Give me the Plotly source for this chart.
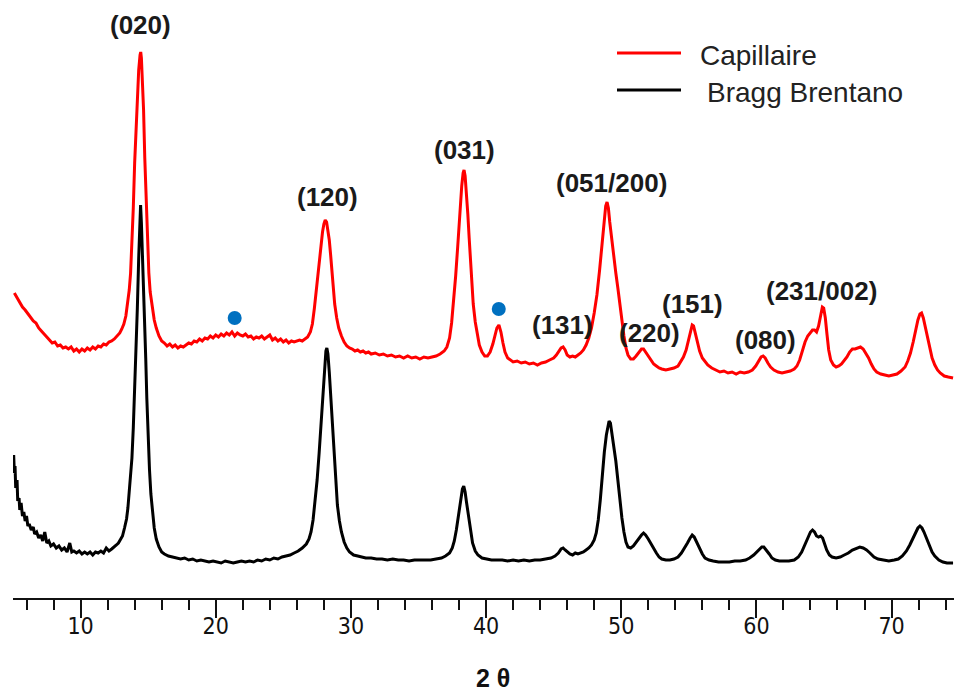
import plotly.graph_objects as go

# ---- data (2theta in degrees, intensity in arbitrary units, offset as displayed)
cap_x = [5.1, 5.3, 5.5, 5.7, 5.9, 6.1, 6.3, 6.5, 6.7, 6.9, 7.1, 7.3, 7.5, 7.7, 7.9, 8.1, 8.3, 8.5, 8.7, 8.9,
         9.1, 9.3, 9.5, 9.7, 9.9, 10.1, 10.3, 10.5, 10.7, 10.9, 11.1, 11.3, 11.5, 11.7, 11.9, 12.1, 12.3,
         12.5, 12.7, 12.9, 13.05, 13.2, 13.35, 13.5, 13.6, 13.7, 13.8, 13.9, 14.0, 14.1, 14.2, 14.3, 14.4,
         14.45, 14.5, 14.58, 14.66, 14.75, 14.85, 14.95, 15.05, 15.15, 15.3, 15.45, 15.6, 15.8, 16.0, 16.2,
         16.4, 16.6, 16.8, 17.0, 17.2, 17.4, 17.6, 17.8, 18.0, 18.2, 18.4, 18.6, 18.8, 19.0, 19.2, 19.4,
         19.6, 19.8, 20.0, 20.2, 20.4, 20.6, 20.8, 21.0, 21.2, 21.4, 21.6, 21.8, 22.0, 22.2, 22.4, 22.6,
         22.8, 23.0, 23.2, 23.4, 23.6, 23.8, 24.0, 24.2, 24.4, 24.6, 24.8, 25.0, 25.2, 25.4, 25.6, 25.8,
         26.0, 26.2, 26.4, 26.6, 26.8, 27.0, 27.15, 27.3, 27.45, 27.6, 27.75, 27.9, 28.0, 28.1, 28.2, 28.3,
         28.4, 28.5, 28.6, 28.7, 28.8, 28.95, 29.1, 29.3, 29.5, 29.7, 29.9, 30.1, 30.3, 30.5, 30.7, 30.9,
         31.1, 31.3, 31.5, 31.8, 32.1, 32.4, 32.7, 33.0, 33.3, 33.6, 33.9, 34.2, 34.5, 34.8, 35.1, 35.4,
         35.7, 36.0, 36.3, 36.6, 36.9, 37.1, 37.3, 37.45, 37.6, 37.75, 37.9, 38.05, 38.2, 38.3, 38.37,
         38.45, 38.55, 38.65, 38.75, 38.85, 38.95, 39.05, 39.2, 39.35, 39.5, 39.7, 39.9, 40.1, 40.3, 40.5,
         40.65, 40.8, 40.95, 41.1, 41.25, 41.4, 41.6, 41.8, 42.0, 42.3, 42.6, 42.9, 43.2, 43.5, 43.8, 44.1,
         44.4, 44.7, 45.0, 45.2, 45.4, 45.55, 45.7, 45.85, 46.0, 46.2, 46.4, 46.6, 46.8, 47.0, 47.2, 47.4,
         47.6, 47.8, 48.0, 48.2, 48.4, 48.55, 48.7, 48.85, 48.95, 49.05, 49.15, 49.3, 49.45, 49.6, 49.75,
         49.9, 50.05, 50.2, 50.35, 50.5, 50.7, 50.9, 51.1, 51.3, 51.5, 51.65, 51.8, 52.0, 52.2, 52.4, 52.6,
         52.8, 53.0, 53.3, 53.6, 53.9, 54.2, 54.4, 54.6, 54.8, 54.95, 55.1, 55.25, 55.35, 55.5, 55.65,
         55.8, 56.0, 56.2, 56.4, 56.7, 57.0, 57.3, 57.6, 57.9, 58.2, 58.5, 58.8, 59.1, 59.4, 59.7, 59.95,
         60.15, 60.35, 60.5, 60.65, 60.85, 61.05, 61.3, 61.6, 61.9, 62.2, 62.5, 62.8, 63.0, 63.2, 63.4,
         63.6, 63.8, 64.0, 64.15, 64.3, 64.45, 64.6, 64.75, 64.88, 64.98, 65.1, 65.22, 65.35, 65.5, 65.7,
         65.9, 66.1, 66.3, 66.5, 66.7, 66.9, 67.1, 67.3, 67.5, 67.7, 67.9, 68.1, 68.3, 68.5, 68.7, 68.9,
         69.2, 69.5, 69.8, 70.1, 70.4, 70.7, 71.0, 71.2, 71.4, 71.6, 71.8, 71.95, 72.1, 72.22, 72.35, 72.5,
         72.65, 72.8, 73.0, 73.2, 73.4, 73.6, 73.9, 74.2, 74.55]
cap_y = [305, 300, 296, 291, 288, 284, 281, 277, 275, 270, 267, 264, 261, 259, 255, 256, 252, 253, 250, 251,
         249, 251, 247, 249, 246, 249, 247, 250, 248, 251, 249, 252, 251, 254, 253, 256, 257,
         259, 262, 265, 269, 274, 282, 295, 308, 325, 352, 390, 435, 470, 500, 528, 543,
         546, 540, 520, 488, 440, 395, 355, 325, 306, 290, 278, 270, 262, 257, 255,
         252, 254, 251, 253, 250, 252, 251, 253, 255, 254, 257, 256, 259, 257, 260, 259,
         262, 260, 263, 261, 264, 262, 265, 263, 266, 262, 265, 263, 262, 264, 261, 262,
         259, 261, 260, 262, 259, 261, 263, 258, 260, 257, 259, 256, 258, 255, 257, 256,
         257, 258, 257, 259, 261, 266, 274, 290, 310, 333, 352, 366, 374, 378, 376, 368,
         358, 343, 326, 308, 294, 280, 270, 262, 256, 252, 250, 249, 247, 248, 246, 247,
         245, 246, 244, 245, 243, 244, 242, 243, 241, 242, 240, 242, 240, 241, 239, 241,
         240, 241, 242, 244, 247, 251, 260, 275, 295, 322, 351, 385, 412, 425, 428,
         422, 406, 384, 360, 335, 312, 294, 276, 262, 253, 246, 242, 242, 246, 254,
         262, 270, 273, 266, 255, 246, 240, 238, 236, 237, 235, 236, 234, 235, 233, 235,
         236, 238, 240, 243, 247, 250, 251, 248, 243, 241, 242, 241, 243, 245, 248, 253,
         260, 270, 285, 303, 328, 351, 375, 392, 396, 390, 376, 357, 340, 325, 310,
         292, 276, 262, 250, 243, 239, 239, 242, 246, 249, 249, 246, 241, 237, 234, 232,
         230, 229, 228, 229, 230, 232, 236, 241, 248, 257, 266, 273, 272, 264, 255,
         247, 240, 236, 233, 230, 228, 226, 227, 225, 226, 224, 226, 225, 226, 228, 232,
         237, 241, 242, 240, 235, 231, 228, 226, 225, 226, 227, 229, 232, 238, 247,
         256, 262, 266, 268, 268, 266, 272, 283, 291, 290, 280, 264, 248, 238, 233,
         231, 232, 234, 237, 241, 246, 249, 249, 250, 251, 249, 245, 240, 234, 229, 226,
         224, 223, 222, 223, 224, 227, 231, 237, 245, 256, 269, 278, 284, 285, 280, 271,
         260, 250, 240, 233, 228, 225, 222, 221, 220]

bb_x = [5.05, 5.1, 5.15, 5.2, 5.3, 5.35, 5.45, 5.5, 5.6, 5.7, 5.8, 5.9, 6.0, 6.1, 6.2, 6.35, 6.5, 6.6,
        6.75, 6.9, 7.05, 7.2, 7.35, 7.5, 7.65, 7.8, 8.0, 8.2, 8.4, 8.6, 8.8, 9.0, 9.2, 9.35, 9.5, 9.7,
        9.9, 10.1, 10.3, 10.5, 10.7, 10.9, 11.1, 11.3, 11.5, 11.7, 11.9, 12.1, 12.3, 12.5, 12.65, 12.8,
        12.95, 13.1, 13.25, 13.4, 13.5, 13.6, 13.7, 13.8, 13.9, 14.0, 14.1, 14.2, 14.3, 14.38, 14.44,
        14.5, 14.58, 14.66, 14.74, 14.82, 14.9, 15.0, 15.1, 15.2, 15.3, 15.45, 15.6, 15.8, 16.0, 16.2,
        16.5, 16.8, 17.1, 17.4, 17.7, 18.0, 18.3, 18.6, 18.9, 19.2, 19.5, 19.8, 20.1, 20.4, 20.7, 21.0,
        21.3, 21.6, 21.9, 22.2, 22.5, 22.8, 23.1, 23.4, 23.7, 24.0, 24.3, 24.6, 24.9, 25.2, 25.5, 25.8,
        26.1, 26.4, 26.7, 26.9, 27.05, 27.2, 27.35, 27.5, 27.65, 27.8, 27.95, 28.05, 28.15, 28.22, 28.3,
        28.4, 28.5, 28.6, 28.7, 28.8, 28.9, 29.0, 29.15, 29.3, 29.5, 29.7, 29.9, 30.2, 30.5, 30.8, 31.1,
        31.5, 31.9, 32.3, 32.7, 33.1, 33.5, 33.9, 34.3, 34.7, 35.1, 35.5, 35.9, 36.3, 36.7, 37.0, 37.3,
        37.5, 37.65, 37.8, 37.95, 38.1, 38.25, 38.35, 38.45, 38.55, 38.7, 38.85, 39.0, 39.2, 39.4, 39.7,
        40.0, 40.4, 40.8, 41.2, 41.6, 42.0, 42.4, 42.8, 43.2, 43.6, 44.0, 44.4, 44.8, 45.1, 45.35, 45.55,
        45.7, 45.85, 46.0, 46.2, 46.4, 46.6, 46.8, 47.0, 47.2, 47.4, 47.6, 47.8, 48.0, 48.15, 48.3, 48.45,
        48.6, 48.75, 48.9, 49.0, 49.1, 49.2, 49.3, 49.45, 49.6, 49.75, 49.9, 50.05, 50.2, 50.35, 50.5,
        50.7, 50.9, 51.1, 51.3, 51.5, 51.65, 51.8, 52.0, 52.2, 52.4, 52.6, 52.8, 53.0, 53.3, 53.6, 53.9,
        54.2, 54.45, 54.7, 54.9, 55.1, 55.25, 55.4, 55.6, 55.8, 56.0, 56.2, 56.5, 56.8, 57.2, 57.6, 58.0,
        58.4, 58.8, 59.2, 59.5, 59.8, 60.0, 60.2, 60.4, 60.55, 60.75, 60.95, 61.15, 61.4, 61.7, 62.0,
        62.4, 62.8, 63.1, 63.35, 63.6, 63.8, 64.0, 64.15, 64.3, 64.45, 64.6, 64.75, 64.9, 65.05, 65.2,
        65.4, 65.6, 65.9, 66.2, 66.5, 66.8, 67.1, 67.4, 67.65, 67.9, 68.15, 68.4, 68.7, 69.0, 69.4, 69.8,
        70.2, 70.5, 70.8, 71.1, 71.35, 71.6, 71.8, 71.95, 72.1, 72.25, 72.4, 72.6, 72.8, 73.0, 73.2, 73.5,
        73.8, 74.1, 74.55]
bb_y = [143, 125, 132, 110, 118, 97, 100, 88, 95, 82, 86, 77, 82, 72, 74, 68, 71, 64,
        66, 60, 63, 57, 66, 55, 57, 52, 54, 50, 52, 48, 50, 46, 55, 46, 47, 45,
        47, 44, 46, 44, 46, 43, 46, 45, 47, 45, 50, 47, 49, 51, 53, 55,
        58, 62, 70, 79, 90, 105, 122, 140, 170, 205, 245, 290, 340, 378, 393,
        375, 345, 315, 285, 240, 200, 160, 128, 104, 87, 70, 59, 51, 46, 44,
        42, 41, 40, 39, 40, 38, 39, 37, 38, 37, 36, 37, 36, 35, 37, 36,
        35, 36, 37, 36, 37, 36, 38, 37, 39, 38, 40, 39, 41, 42, 43, 45,
        47, 50, 54, 59, 66, 78, 95, 118, 145, 178, 212, 233, 247, 250, 244,
        226, 203, 178, 152, 128, 108, 93, 77, 66, 56, 50, 46, 43, 42, 41, 40,
        40, 39, 39, 38, 39, 38, 38, 37, 38, 38, 38, 38, 39, 40, 42, 45,
        50, 57, 68, 82, 98, 109, 112, 106, 96, 81, 66, 55, 47, 43, 40,
        39, 38, 38, 38, 37, 38, 37, 38, 37, 38, 38, 39, 40, 42, 45, 49,
        50, 48, 46, 44, 43, 45, 44, 45, 46, 48, 50, 53, 58, 65, 78, 98,
        123, 146, 163, 172, 177, 175, 166, 152, 137, 118, 98, 80, 66, 56, 51,
        50, 52, 56, 60, 63, 65, 63, 59, 54, 49, 45, 41, 39, 38, 38, 39,
        41, 45, 50, 55, 60, 63, 61, 55, 49, 44, 40, 38, 37, 36, 36, 36,
        37, 37, 38, 40, 43, 46, 49, 51, 51, 48, 44, 40, 38, 37, 37,
        37, 38, 41, 46, 54, 61, 66, 68, 66, 62, 61, 62, 60, 54, 48,
        43, 41, 40, 41, 43, 45, 48, 50, 51, 50, 48, 45, 41, 39, 38, 37,
        38, 39, 42, 47, 53, 60, 66, 70, 72, 70, 66, 59, 52, 46, 42, 38,
        36, 35, 35]

peak_labels = ["(020)", "(120)", "(031)", "(051/200)", "(131)", "(220)", "(151)", "(080)", "(231/002)"]
label_x = [14.44, 28.28, 38.42, 49.3, 45.68, 52.12, 55.3, 60.7, 64.85]
label_y = [573, 401, 448, 415, 273, 265, 294, 258, 307]

impurity_x = [21.4, 40.94]
impurity_y = [280, 289]

series_names = ["Capillaire", "Bragg Brentano"]

fig = go.Figure()
fig.add_trace(go.Scatter(x=cap_x, y=cap_y, mode="lines", name=series_names[0],
                         line=dict(color="#ff0000", width=3), showlegend=False))
fig.add_trace(go.Scatter(x=bb_x, y=bb_y, mode="lines", name=series_names[1],
                         line=dict(color="#000000", width=3), showlegend=False))
fig.add_trace(go.Scatter(x=impurity_x, y=impurity_y, mode="markers", xaxis="x2", yaxis="y",
                         marker=dict(color="#0070c0", size=14), showlegend=False))

for t, x, y in zip(peak_labels, label_x, label_y):
    fig.add_annotation(x=x, y=y, xref="x", yref="y", text="<b>%s</b>" % t, showarrow=False,
                       font=dict(family="Liberation Sans, Arial", size=26, color="#1a1a1a"))

# manual legend (long line keys like the reference)
W, H = 941.0, 598.0
def px(xp):
    return (xp - 13) / W
def py(yp):
    return (598 - yp) / H
for name, color, ly, tx in [(series_names[0], "#ff0000", 53, 698), (series_names[1], "#000000", 90, 705)]:
    fig.add_shape(type="line", xref="paper", yref="paper", x0=px(617), x1=px(681), y0=py(ly), y1=py(ly),
                  line=dict(color=color, width=3))
    fig.add_annotation(xref="paper", yref="paper", x=px(tx), y=py(ly + 2), xanchor="left", yanchor="middle",
                       text=name, showarrow=False,
                       font=dict(family="Liberation Sans, Arial", size=28, color="#222222"))

fig.add_annotation(xref="paper", yref="paper", x=px(493), y=py(678), text="<b>2 θ</b>", showarrow=False,
                   xanchor="center", yanchor="middle",
                   font=dict(family="Liberation Sans, Arial", size=25, color="#111111"))

tickfont = dict(family="Liberation Sans Narrow, Arial Narrow, DejaVu Sans Condensed", size=23, color="#111111")
fig.update_layout(
    width=954, height=694,
    margin=dict(l=13, r=0, t=0, b=96),
    paper_bgcolor="white", plot_bgcolor="white",
    xaxis=dict(range=[5.0, 74.62], showgrid=False, zeroline=False,
               showline=True, linecolor="#111111", linewidth=2,
               ticks="outside", tick0=0, dtick=10, ticklen=18, tickwidth=2, tickcolor="#111111",
               showticklabels=False,
               minor=dict(dtick=2, tick0=0, ticks="outside", ticklen=10, tickwidth=1.5, tickcolor="#111111")),
    xaxis2=dict(range=[5.0, 74.62], overlaying="x", anchor="y", side="bottom", showgrid=False,
                zeroline=False, showline=False, ticks="", tick0=0, dtick=10,
                ticklabelstandoff=12, tickfont=tickfont),
    yaxis=dict(range=[0, 598], visible=False, showgrid=False, zeroline=False),
)

fig.write_html("out.html")
